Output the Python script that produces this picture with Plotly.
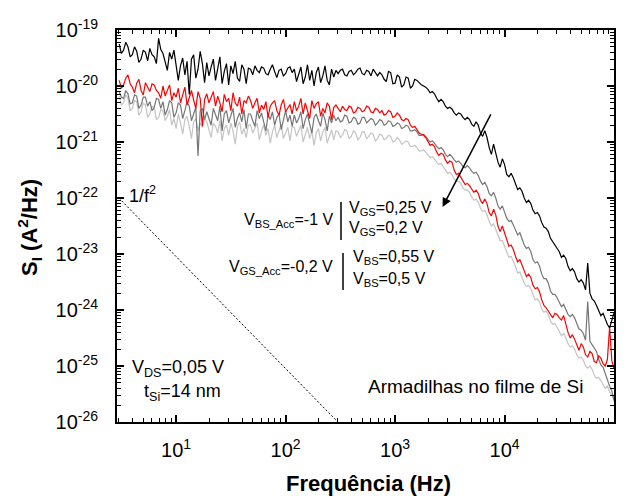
import plotly.graph_objects as go

# Frequency grid (log10 of Hz), shared by all spectra
LOG_F = [
    0.48, 0.50, 0.52, 0.54, 0.56, 0.58, 0.60, 0.62, 0.64, 0.66, 0.68, 0.70, 0.72, 0.74, 0.76, 0.78, 0.80, 0.82, 0.84, 0.86,
    0.88, 0.90, 0.92, 0.94, 0.96, 0.98, 1.00, 1.02, 1.04, 1.06, 1.08, 1.10, 1.12, 1.14, 1.16, 1.18, 1.20, 1.22, 1.24, 1.26,
    1.28, 1.30, 1.32, 1.34, 1.36, 1.38, 1.40, 1.42, 1.44, 1.46, 1.48, 1.50, 1.52, 1.54, 1.56, 1.58, 1.60, 1.62, 1.64, 1.66,
    1.68, 1.70, 1.72, 1.74, 1.76, 1.78, 1.80, 1.82, 1.84, 1.86, 1.88, 1.90, 1.92, 1.94, 1.96, 1.98, 2.00, 2.02, 2.04, 2.06,
    2.08, 2.10, 2.12, 2.14, 2.16, 2.18, 2.20, 2.22, 2.24, 2.26, 2.28, 2.30, 2.32, 2.34, 2.36, 2.38, 2.40, 2.42, 2.44, 2.46,
    2.48, 2.50, 2.52, 2.54, 2.56, 2.58, 2.60, 2.62, 2.64, 2.66, 2.68, 2.70, 2.72, 2.74, 2.76, 2.78, 2.80, 2.82, 2.84, 2.86,
    2.88, 2.90, 2.92, 2.94, 2.96, 2.98, 3.00, 3.02, 3.04, 3.06, 3.08, 3.10, 3.12, 3.14, 3.16, 3.18, 3.20, 3.22, 3.24, 3.26,
    3.28, 3.30, 3.32, 3.34, 3.36, 3.38, 3.40, 3.42, 3.44, 3.46, 3.48, 3.50, 3.52, 3.54, 3.56, 3.58, 3.60, 3.62, 3.64, 3.66,
    3.68, 3.70, 3.72, 3.74, 3.76, 3.78, 3.80, 3.82, 3.84, 3.86, 3.88, 3.90, 3.92, 3.94, 3.96, 3.98, 4.00, 4.02, 4.04, 4.06,
    4.08, 4.10, 4.12, 4.14, 4.16, 4.18, 4.20, 4.22, 4.24, 4.26, 4.28, 4.30, 4.32, 4.34, 4.36, 4.38, 4.40, 4.42, 4.44, 4.46,
    4.48, 4.50, 4.52, 4.54, 4.56, 4.58, 4.60, 4.62, 4.64, 4.66, 4.68, 4.70, 4.72, 4.74, 4.76, 4.78, 4.80, 4.82, 4.84, 4.86,
    4.88, 4.90, 4.92, 4.94, 4.96, 4.98, 5.00,
]

# log10 of S_I (A^2/Hz) for each bias condition
S_BLACK = [
    -19.25, -19.42, -19.36, -19.22, -19.30, -19.48, -19.44, -19.30, -19.38, -19.58, -19.52, -19.36, -19.40, -19.55, -19.33, -19.44, -19.48, -19.60, -19.15, -19.35,
    -19.42, -19.58, -19.72, -19.40, -19.52, -19.36, -19.62, -19.90, -19.64, -19.50, -19.80, -19.56, -20.15, -19.52, -19.44, -19.86, -19.70, -19.38, -19.60, -19.94,
    -19.58, -19.82, -19.66, -19.52, -19.90, -19.70, -19.48, -19.96, -19.74, -19.60, -19.98, -19.64, -19.78, -19.56, -19.86, -19.92, -19.62, -19.70, -19.96, -19.68,
    -19.70, -19.80, -19.64, -19.72, -19.76, -19.66, -19.68, -19.78, -19.80, -19.70, -19.62, -19.74, -19.85, -19.72, -19.70, -19.82, -19.78, -19.68, -19.66, -19.76,
    -19.70, -19.92, -19.78, -19.66, -19.96, -19.84, -19.62, -19.90, -19.72, -20.00, -19.76, -19.66, -19.94, -19.82, -19.64, -19.90, -19.98, -19.70, -19.84, -19.72,
    -19.78, -19.72, -19.70, -19.80, -19.82, -19.74, -19.72, -19.80, -19.76, -19.70, -19.68, -19.78, -19.80, -19.72, -19.74, -19.82, -19.70, -19.76, -19.82, -19.76,
    -19.80, -19.88, -19.92, -19.74, -19.76, -19.96, -19.95, -19.80, -19.84, -20.02, -19.98, -19.84, -19.86, -20.04, -20.00, -19.88, -19.90, -19.94, -19.98, -20.00,
    -20.02, -20.06, -20.12, -20.10, -20.14, -20.22, -20.28, -20.24, -20.28, -20.36, -20.40, -20.38, -20.41, -20.48, -20.52, -20.48, -20.50, -20.56, -20.60, -20.56,
    -20.60, -20.68, -20.72, -20.64, -20.70, -20.84, -20.90, -20.80, -20.92, -21.10, -21.22, -21.04, -21.18, -21.36, -21.45, -21.30, -21.40, -21.58, -21.62, -21.56,
    -21.64, -21.76, -21.85, -21.82, -21.88, -22.00, -22.08, -22.04, -22.10, -22.22, -22.28, -22.26, -22.32, -22.44, -22.52, -22.54, -22.60, -22.72, -22.78, -22.82,
    -22.90, -22.96, -23.06, -23.02, -23.08, -23.22, -23.30, -23.26, -23.32, -23.44, -23.50, -23.46, -23.52, -23.64, -23.16, -23.70, -23.80, -23.84, -23.92, -24.02,
    -24.10, -24.06, -24.16, -24.26, -24.32, -24.20, -24.05,
]

S_RED = [
    -19.90, -20.04, -19.98, -19.86, -19.80, -19.96, -20.02, -20.12, -19.95, -19.88, -20.08, -20.16, -19.94, -20.02, -20.10, -19.96, -19.98, -20.08, -20.12, -20.22,
    -20.00, -20.18, -20.08, -19.98, -20.26, -20.12, -20.20, -20.04, -20.30, -20.14, -20.02, -20.34, -20.20, -20.08, -20.25, -20.40, -20.10, -20.22, -20.72, -20.24,
    -20.14, -20.30, -20.20, -20.10, -20.36, -20.18, -20.30, -20.46, -20.15, -20.28, -20.22, -20.44, -20.12, -20.30, -20.36, -20.20, -20.50, -20.26, -20.30, -20.18,
    -20.26, -20.40, -20.30, -20.22, -20.48, -20.34, -20.42, -20.28, -20.56, -20.36, -20.30, -20.26, -20.44, -20.52, -20.34, -20.24, -20.46, -20.38, -20.33, -20.50,
    -20.28, -20.44, -20.36, -20.22, -20.50, -20.30, -20.45, -20.58, -20.26, -20.40, -20.32, -20.28, -20.54, -20.40, -20.48, -20.30, -20.36, -20.60, -20.38, -20.34,
    -20.40, -20.46, -20.36, -20.42, -20.44, -20.36, -20.38, -20.48, -20.46, -20.38, -20.40, -20.46, -20.44, -20.36, -20.38, -20.46, -20.48, -20.40, -20.42, -20.48,
    -20.44, -20.52, -20.50, -20.44, -20.46, -20.56, -20.54, -20.48, -20.52, -20.60, -20.62, -20.58, -20.60, -20.70, -20.74, -20.72, -20.78, -20.84, -20.86, -20.88,
    -20.92, -21.00, -21.06, -21.04, -21.08, -21.18, -21.24, -21.20, -21.22, -21.32, -21.38, -21.34, -21.36, -21.50, -21.58, -21.56, -21.62, -21.70, -21.76, -21.74,
    -21.78, -21.84, -21.90, -21.86, -21.92, -22.04, -22.10, -22.02, -22.10, -22.26, -22.32, -22.20, -22.30, -22.50, -22.60, -22.50, -22.62, -22.78, -22.86, -22.84,
    -22.92, -23.04, -23.14, -23.10, -23.20, -23.32, -23.40, -23.36, -23.42, -23.56, -23.62, -23.60, -23.68, -23.82, -23.92, -23.96, -24.02, -24.10, -24.14, -24.06,
    -24.08, -24.14, -24.18, -24.10, -24.26, -24.40, -24.50, -24.44, -24.52, -24.64, -24.72, -24.60, -24.66, -24.80, -24.84, -24.74, -24.78, -24.92, -24.94, -24.82,
    -24.86, -24.96, -25.00, -24.88, -24.30, -24.90, -25.05,
]

S_DARK_GREY = [
    -20.10, -20.20, -20.22, -20.08, -20.14, -20.32, -20.30, -20.16, -20.18, -20.40, -20.34, -20.20, -20.20, -20.36, -20.28, -20.44, -20.38, -20.22, -20.24, -20.40,
    -20.28, -20.52, -20.42, -20.26, -20.30, -20.56, -20.48, -20.30, -20.34, -20.58, -20.44, -20.28, -20.36, -20.62, -20.50, -20.38, -21.25, -20.44, -20.40, -20.60,
    -20.46, -20.58, -20.70, -20.40, -20.52, -20.62, -20.36, -20.80, -20.50, -20.44, -20.66, -20.52, -20.40, -20.74, -20.58, -20.48, -20.64, -20.42, -20.76, -20.50,
    -20.50, -20.62, -20.72, -20.44, -20.58, -20.48, -20.66, -20.80, -20.52, -20.60, -20.46, -20.70, -20.56, -20.50, -20.78, -20.58, -20.44, -20.64, -20.52, -20.72,
    -20.52, -20.66, -20.58, -20.46, -20.76, -20.60, -20.50, -20.68, -20.84, -20.56, -20.50, -20.62, -20.72, -20.48, -20.60, -20.80, -20.54, -20.66, -20.52, -20.62,
    -20.56, -20.64, -20.62, -20.52, -20.54, -20.66, -20.64, -20.56, -20.58, -20.68, -20.66, -20.56, -20.56, -20.66, -20.62, -20.58, -20.60, -20.70, -20.66, -20.60,
    -20.62, -20.70, -20.68, -20.62, -20.64, -20.72, -20.70, -20.66, -20.68, -20.76, -20.74, -20.70, -20.72, -20.80, -20.80, -20.78, -20.82, -20.88, -20.88, -20.86,
    -20.90, -20.96, -21.00, -20.98, -21.02, -21.08, -21.12, -21.10, -21.14, -21.22, -21.26, -21.22, -21.26, -21.32, -21.36, -21.34, -21.38, -21.44, -21.46, -21.42,
    -21.46, -21.52, -21.56, -21.54, -21.60, -21.70, -21.76, -21.72, -21.80, -21.92, -21.96, -21.90, -22.00, -22.14, -22.20, -22.14, -22.24, -22.36, -22.42, -22.40,
    -22.48, -22.58, -22.66, -22.62, -22.72, -22.84, -22.90, -22.88, -22.96, -23.10, -23.16, -23.14, -23.22, -23.36, -23.44, -23.44, -23.52, -23.66, -23.72, -23.72,
    -23.78, -23.86, -23.94, -23.90, -23.98, -24.08, -24.12, -24.08, -24.14, -24.26, -24.34, -24.36, -24.42, -24.54, -23.85, -24.56, -24.62, -24.70, -24.74, -24.88,
    -24.98, -25.02, -25.14, -25.26, -25.36, -25.44, -25.62,
]

S_LIGHT_GREY = [
    -20.18, -20.34, -20.30, -20.16, -20.22, -20.44, -20.40, -20.26, -20.28, -20.52, -20.46, -20.30, -20.34, -20.56, -20.50, -20.36, -20.38, -20.60, -20.56, -20.42,
    -20.44, -20.62, -20.54, -20.42, -20.70, -20.58, -20.76, -20.50, -20.66, -20.86, -20.60, -20.54, -20.72, -20.94, -20.64, -20.58, -20.80, -20.66, -20.74, -20.58,
    -20.64, -20.80, -20.92, -20.66, -20.72, -20.84, -20.62, -20.98, -20.76, -20.70, -20.88, -20.66, -20.80, -21.04, -20.72, -20.64, -20.86, -20.76, -20.92, -20.70,
    -20.70, -20.84, -20.76, -20.66, -20.96, -20.80, -20.70, -20.88, -20.76, -21.02, -20.82, -20.70, -20.92, -20.78, -20.68, -20.94, -20.84, -20.74, -20.98, -20.72,
    -20.74, -20.90, -20.80, -20.70, -21.00, -20.86, -20.74, -20.94, -20.80, -21.06, -20.84, -20.76, -20.98, -20.82, -20.74, -21.02, -20.88, -20.78, -20.96, -20.80,
    -20.82, -20.92, -20.88, -20.78, -20.80, -20.94, -20.90, -20.80, -20.84, -20.96, -20.92, -20.82, -20.82, -20.94, -20.90, -20.84, -20.86, -20.98, -20.94, -20.86,
    -20.88, -20.96, -20.94, -20.88, -20.90, -21.00, -20.98, -20.92, -20.96, -21.04, -21.02, -20.98, -21.00, -21.08, -21.08, -21.06, -21.10, -21.16, -21.16, -21.14,
    -21.18, -21.24, -21.28, -21.26, -21.30, -21.36, -21.40, -21.38, -21.44, -21.52, -21.56, -21.54, -21.58, -21.66, -21.70, -21.70, -21.74, -21.82, -21.86, -21.86,
    -21.90, -21.98, -22.04, -22.02, -22.08, -22.18, -22.24, -22.22, -22.30, -22.42, -22.50, -22.46, -22.56, -22.68, -22.76, -22.76, -22.86, -22.98, -23.06, -23.04,
    -23.12, -23.22, -23.34, -23.32, -23.42, -23.52, -23.58, -23.56, -23.62, -23.74, -23.82, -23.80, -23.86, -23.98, -24.04, -24.02, -24.08, -24.20, -24.26, -24.24,
    -24.30, -24.38, -24.46, -24.42, -24.50, -24.60, -24.66, -24.64, -24.70, -24.80, -24.86, -24.84, -24.90, -25.00, -25.04, -25.00, -25.06, -25.16, -25.22, -25.20,
    -25.26, -25.34, -25.40, -25.36, -25.46, -25.52, -25.60,
]

# 1/f^2 guide line
GUIDE_F = [3, 300]
GUIDE_S = [1e-22, 1e-26]

X_DECADES = [1, 2, 3, 4, 5]
Y_DECADES = [-26, -25, -24, -23, -22, -21, -20, -19]

FONT = "Arial, Liberation Sans, sans-serif"

freq = [10 ** v for v in LOG_F]

fig = go.Figure()
series = [
    (S_LIGHT_GREY, "#c4c4c4"),
    (S_DARK_GREY, "#767676"),
    (S_RED, "#ff0000"),
    (S_BLACK, "#000000"),
]
for vals, color in series:
    fig.add_trace(go.Scatter(
        x=freq, y=[10 ** v for v in vals], mode="lines",
        line=dict(color=color, width=1.2), showlegend=False, hoverinfo="skip",
    ))

fig.add_trace(go.Scatter(
    x=GUIDE_F, y=GUIDE_S, mode="lines",
    line=dict(color="black", width=1, dash="2px,2px"),
    showlegend=False, hoverinfo="skip",
))

minor_x = [m * 10 ** d for d in range(0, 5) for m in range(2, 10)]
minor_y = [m * 10.0 ** d for d in range(-26, -19) for m in range(2, 10)]

axis_common = dict(
    type="log", showgrid=False, zeroline=False,
    showline=True, linecolor="black", linewidth=2, mirror="allticks",
    ticks="inside", ticklen=7, tickwidth=1.5, tickcolor="black",
    tickfont=dict(family=FONT, size=20, color="black"),
)

fig.update_xaxes(
    **axis_common,
    range=[0.46, 5.0],
    tickmode="array",
    tickvals=[10 ** d for d in X_DECADES],
    ticktext=[f"10<sup>{d}</sup>" for d in X_DECADES],
    minor=dict(tickmode="array", tickvals=minor_x, ticks="inside",
               ticklen=4, tickwidth=1.2, tickcolor="black", showgrid=False),
    ticklabelstandoff=9,
)
fig.update_yaxes(
    **axis_common,
    range=[-26, -19],
    tickmode="array",
    tickvals=[10.0 ** d for d in Y_DECADES],
    ticktext=[f"10<sup>{d}</sup>" for d in Y_DECADES],
    minor=dict(tickmode="array", tickvals=minor_y, ticks="inside",
               ticklen=4, tickwidth=1.2, tickcolor="black", showgrid=False),
    ticklabelstandoff=13,
)

def note(text, x, y, size=16, xanchor="left"):
    fig.add_annotation(
        text=text, x=x, y=y, xref="x", yref="y", showarrow=False,
        xanchor=xanchor, yanchor="middle",
        font=dict(family=FONT, size=size, color="black"),
    )

note("1/f<sup>2</sup>", 0.55, -21.93, size=18)
note("V<sub>DS</sub>=0,05 V", 0.58, -25.04, size=18)
note("t<sub>Si</sub>=14 nm", 0.69, -25.48, size=18)
note("Armadilhas no filme de Si", 2.73, -25.36, size=19)

note("V<sub>BS_Acc</sub>=-1 V", 2.45, -22.40, size=16, xanchor="right")
note("V<sub>GS</sub>=0,25 V", 2.56, -22.18, size=16)
note("V<sub>GS</sub>=0,2 V", 2.56, -22.54, size=16)
note("V<sub>GS_Acc</sub>=-0,2 V", 2.45, -23.24, size=16, xanchor="right")
note("V<sub>BS</sub>=0,55 V", 2.60, -23.07, size=16)
note("V<sub>BS</sub>=0,5 V", 2.60, -23.46, size=16)

# vertical separators of the bias legend
for y0, y1, xp in [(202, 240, 341), (253, 290, 343)]:
    fig.add_shape(
        type="line", xref="paper", yref="paper",
        x0=(xp - 117) / 497, x1=(xp - 117) / 497,
        y0=(422 - y1) / 392, y1=(422 - y0) / 392,
        line=dict(color="black", width=1.5),
    )

# arrow showing the trend with bias
fig.add_annotation(
    x=3.434, y=-22.16, ax=3.882, ay=-20.48,
    xref="x", yref="y", axref="x", ayref="y",
    showarrow=True, arrowhead=2, arrowsize=1.2, arrowwidth=1.5,
    arrowcolor="black", text="",
)

# axis titles
fig.add_annotation(
    text="<b>Frequência (Hz)</b>", xref="paper", yref="paper",
    x=0.507, y=-0.156, showarrow=False, xanchor="center", yanchor="middle",
    font=dict(family=FONT, size=22, color="black"),
)
fig.add_annotation(
    text="<b>S<sub>I</sub> (A<sup>2</sup>/Hz)</b>", xref="paper", yref="paper",
    x=-0.175, y=0.495, showarrow=False, textangle=-90,
    xanchor="center", yanchor="middle",
    font=dict(family=FONT, size=22, color="black"),
)

fig.update_layout(
    width=628, height=496,
    margin=dict(l=117, r=14, t=30, b=74),
    paper_bgcolor="white", plot_bgcolor="white",
    showlegend=False,
)

fig.write_html("out.html")
